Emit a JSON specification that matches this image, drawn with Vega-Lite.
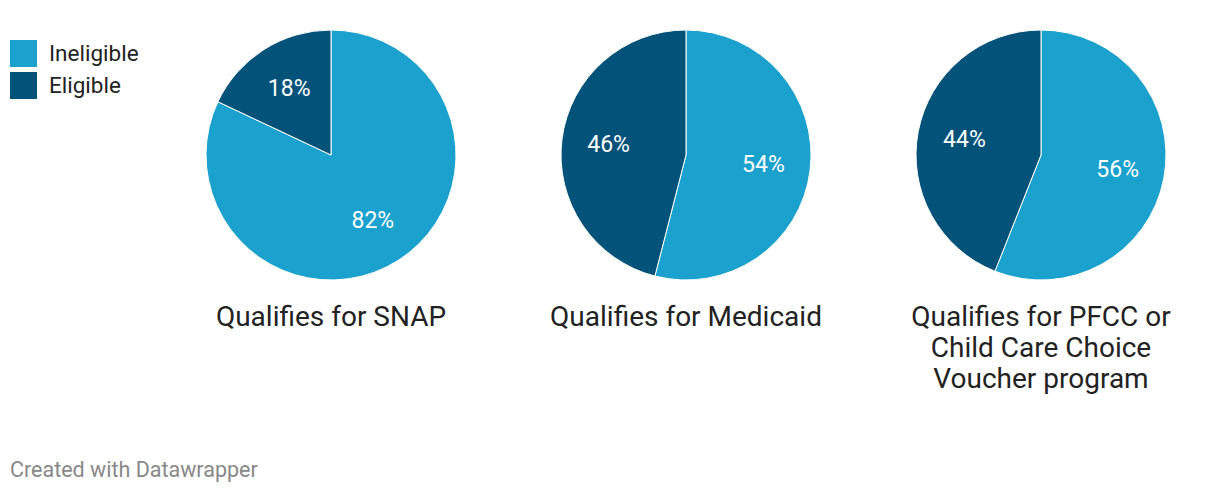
{
  "$schema": "https://vega.github.io/schema/vega-lite/v6.json",
  "background": "white",
  "padding": {"left": 10, "top": 28, "right": 10, "bottom": 10},
  "autosize": {"type": "pad"},
  "data": {"values": [
    {"program": "SNAP", "status": "Ineligible", "value": 0.82},
    {"program": "SNAP", "status": "Eligible", "value": 0.18},
    {"program": "Medicaid", "status": "Ineligible", "value": 0.54},
    {"program": "Medicaid", "status": "Eligible", "value": 0.46},
    {"program": "PFCC", "status": "Ineligible", "value": 0.56},
    {"program": "PFCC", "status": "Eligible", "value": 0.44}
  ]},
  "title": {
    "text": "Created with Datawrapper",
    "orient": "bottom",
    "anchor": "start",
    "offset": 66,
    "font": "Roboto",
    "fontSize": 21.5,
    "fontWeight": "normal",
    "color": "#888888"
  },
  "config": {
    "view": {"stroke": null},
    "font": "Roboto",
    "concat": {"spacing": 75},
    "title": {"orient": "bottom", "anchor": "middle", "font": "Roboto", "fontSize": 28, "fontWeight": "normal", "color": "#222222", "offset": 22, "lineHeight": 31, "baseline": "top"},
    "legend": {
      "orient": "none",
      "legendX": -181,
      "legendY": 10,
      "title": null,
      "symbolType": "square",
      "symbolSize": 729,
      "symbolStrokeWidth": 0,
      "symbolOpacity": 1,
      "labelFont": "Roboto",
      "labelFontSize": 22.5,
      "labelColor": "#222222",
      "labelOffset": 12,
      "rowPadding": 5
    }
  },
  "hconcat": [
    {
      "width": 280, "height": 250,
      "title": {"text": "Qualifies for SNAP"},
      "transform": [{"filter": "datum.program === 'SNAP'"}],
      "encoding": {
        "theta": {"field": "value", "type": "quantitative", "stack": true},
        "order": {"field": "status", "sort": "descending"},
        "color": {"field": "status", "type": "nominal", "scale": {"domain": ["Ineligible", "Eligible"], "range": ["#1aa1ce", "#03527a"]}}
      },
      "layer": [
        {"mark": {"type": "arc", "outerRadius": 125, "stroke": "white", "strokeWidth": 1}},
        {"mark": {"type": "text", "radius": 78, "fontSize": 23, "font": "Roboto"},
         "encoding": {"text": {"field": "value", "type": "quantitative", "format": ".0%"}, "color": {"value": "white"}}}
      ]
    },
    {
      "width": 280, "height": 250,
      "title": {"text": "Qualifies for Medicaid"},
      "transform": [{"filter": "datum.program === 'Medicaid'"}],
      "encoding": {
        "theta": {"field": "value", "type": "quantitative", "stack": true},
        "order": {"field": "status", "sort": "descending"},
        "color": {"field": "status", "type": "nominal", "scale": {"domain": ["Ineligible", "Eligible"], "range": ["#1aa1ce", "#03527a"]}}
      },
      "layer": [
        {"mark": {"type": "arc", "outerRadius": 125, "stroke": "white", "strokeWidth": 1}},
        {"mark": {"type": "text", "radius": 78, "fontSize": 23, "font": "Roboto"},
         "encoding": {"text": {"field": "value", "type": "quantitative", "format": ".0%"}, "color": {"value": "white"}}}
      ]
    },
    {
      "width": 280, "height": 250,
      "title": {"text": ["Qualifies for PFCC or", "Child Care Choice", "Voucher program"]},
      "transform": [{"filter": "datum.program === 'PFCC'"}],
      "encoding": {
        "theta": {"field": "value", "type": "quantitative", "stack": true},
        "order": {"field": "status", "sort": "descending"},
        "color": {"field": "status", "type": "nominal", "scale": {"domain": ["Ineligible", "Eligible"], "range": ["#1aa1ce", "#03527a"]}}
      },
      "layer": [
        {"mark": {"type": "arc", "outerRadius": 125, "stroke": "white", "strokeWidth": 1}},
        {"mark": {"type": "text", "radius": 78, "fontSize": 23, "font": "Roboto"},
         "encoding": {"text": {"field": "value", "type": "quantitative", "format": ".0%"}, "color": {"value": "white"}}}
      ]
    }
  ]
}
